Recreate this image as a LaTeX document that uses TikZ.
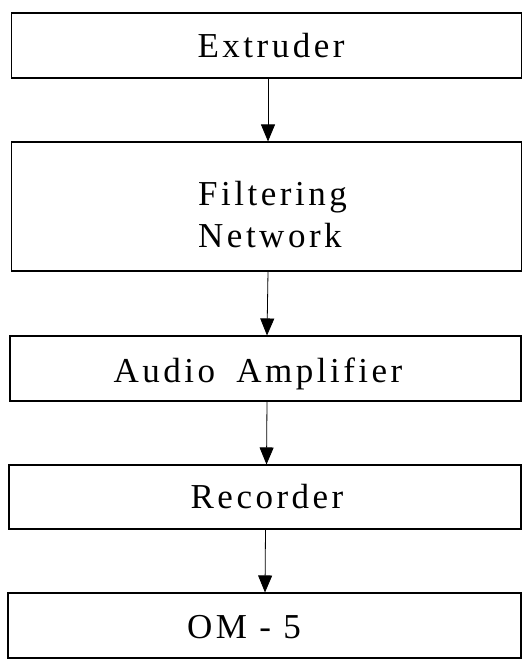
\documentclass[tikz,border=0pt]{standalone}
\usepackage{fontspec}
\setmainfont[LetterSpace=10]{Liberation Serif}
\usetikzlibrary{arrows.meta}
\begin{document}
\begin{tikzpicture}[x=1pt,y=-1pt,
  box/.style={draw, line width=1.1pt, inner sep=0pt, minimum width=510pt},
  lbl/.style={inner sep=0pt, anchor=base, font=\fontsize{35}{42}\selectfont},
  flow/.style={line width=0.8pt, -{Triangle[length=17pt,width=14pt]}}]
\useasboundingbox (0,0) rectangle (523,659);
\fill[white] (0,0) rectangle (523,659);
\node[box, minimum height=65pt] (ext) at (266.5,45.5) {};
\node[box, minimum height=129pt] (fil) at (266.5,206.5) {};
\node[box, minimum height=65pt, minimum width=511pt] (aud) at (265.5,368.5) {};
\node[box, minimum height=64pt, minimum width=512pt] (rec) at (265,497) {};
\node[box, minimum height=65pt, minimum width=513pt] (om) at (264.5,625.5) {};
\node[lbl] (t1) at (271,57) {Extruder};
\node[lbl, align=left, anchor=base west] (t2) at (198,247) {Filtering\\Network};
\node[lbl] (t3) at (258,382) {Audio\hspace{9pt} Amplifier};
\node[lbl] (t4) at (267,508) {Recorder};
\node[lbl] (t5) at (244,638) {OM - 5};
\draw[flow] ([xshift=1.5pt]ext.south) -- ([xshift=1.5pt]fil.north);
\draw[flow] ([xshift=1.5pt]fil.south) -- ([xshift=1.5pt]aud.north);
\draw[flow] ([xshift=1.5pt]aud.south) -- ([xshift=1.5pt]rec.north);
\draw[flow] ([xshift=0.5pt]rec.south) -- ([xshift=0.5pt]om.north);
\end{tikzpicture}
\end{document}
